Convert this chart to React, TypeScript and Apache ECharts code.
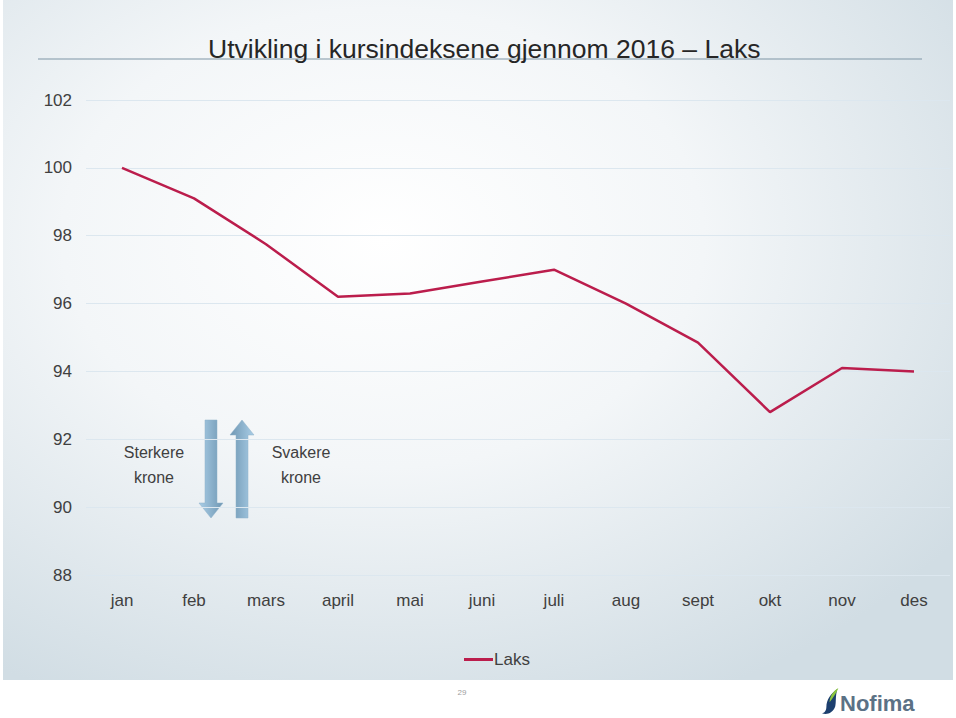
import React, { useEffect, useRef } from "react";
import * as echarts from "echarts";

const categories = ["jan", "feb", "mars", "april", "mai", "juni", "juli", "aug", "sept", "okt", "nov", "des"];
const laks = [100.0, 99.1, 97.75, 96.2, 96.3, 96.65, 97.0, 96.0, 94.85, 92.8, 94.1, 94.0];
const yTicks = { min: 88, max: 102, interval: 2 };
const titleText = "Utvikling i kursindeksene gjennom 2016 \u2013 Laks";
const seriesName = "Laks";
const pageNumber = "29";

const FONT = "Liberation Sans";

echarts.graphic.registerShape(
  "swoosh",
  echarts.graphic.extendPath(
    "M 14 0 C 8 4 4 10 4 16 C 4 20 2 22 0 22 C 4 24 10 22 12 16 C 13 12 12 6 14 0 Z",
    {}
  )
);
echarts.graphic.registerShape(
  "leaf",
  echarts.graphic.extendPath("M 14 0 C 9 3 6 8 6 13 C 9 9 12 5 14 0 Z", {})
);

export default function App() {
  const ref = useRef<HTMLDivElement>(null);
  useEffect(() => {
    document.body.style.margin = "0";
    const chart = echarts.init(ref.current!, null, { renderer: "svg" });
    chart.setOption({
      animation: false,
      backgroundColor: "#ffffff",
      title: {
        text: titleText,
        left: 203,
        top: 30,
        textStyle: { fontFamily: FONT, fontSize: 26.5, fontWeight: "normal", color: "#262626" },
      },
      graphic: [
        {
          type: "rect",
          z: -10,
          silent: true,
          shape: { x: 3, y: 0, width: 950, height: 680 },
          style: {
            fill: {
              type: "radial",
              x: 0.4,
              y: 0.35,
              r: 0.75,
              colorStops: [
                { offset: 0, color: "#ffffff" },
                { offset: 0.45, color: "#f3f6f8" },
                { offset: 1, color: "#d1dde4" },
              ],
            },
          },
        },
        {
          type: "line",
          shape: { x1: 38, y1: 59, x2: 922, y2: 59 },
          style: { stroke: "#7f96a6", lineWidth: 1.2 },
        },
        {
          type: "polygon",
          shape: {
            points: [
              [205, 420], [217, 420], [217, 503], [223, 503], [211, 518], [199, 503], [205, 503],
            ],
          },
          style: {
            fill: {
              type: "linear", x: 0, y: 0, x2: 1, y2: 0,
              colorStops: [
                { offset: 0, color: "#a9cde6" },
                { offset: 1, color: "#6f97b3" },
              ],
            },
            stroke: "#8fb1c8",
            lineWidth: 0.5,
          },
        },
        {
          type: "polygon",
          shape: {
            points: [
              [242, 420], [254, 435], [248, 435], [248, 518], [236, 518], [236, 435], [230, 435],
            ],
          },
          style: {
            fill: {
              type: "linear", x: 0, y: 0, x2: 1, y2: 0,
              colorStops: [
                { offset: 0, color: "#6f97b3" },
                { offset: 1, color: "#a9cde6" },
              ],
            },
            stroke: "#8fb1c8",
            lineWidth: 0.5,
          },
        },
        {
          type: "text",
          x: 154,
          y: 465,
          style: {
            text: "Sterkere\nkrone",
            fontFamily: FONT,
            fontSize: 16,
            lineHeight: 25,
            fill: "#404040",
            align: "center",
            verticalAlign: "middle",
          },
        },
        {
          type: "text",
          x: 301,
          y: 465,
          style: {
            text: "Svakere\nkrone",
            fontFamily: FONT,
            fontSize: 16,
            lineHeight: 25,
            fill: "#404040",
            align: "center",
            verticalAlign: "middle",
          },
        },
        {
          type: "text",
          x: 462,
          y: 692,
          style: {
            text: pageNumber,
            fontFamily: FONT,
            fontSize: 8,
            fill: "#a0a0a0",
            align: "center",
            verticalAlign: "middle",
          },
        },
        {
          type: "swoosh",
          x: 822,
          y: 689,
          scaleX: 1.1,
          scaleY: 1.1,
          style: { fill: "#1c3f6e" },
        },
        {
          type: "leaf",
          x: 823,
          y: 688,
          scaleX: 1.1,
          scaleY: 1.1,
          style: { fill: "#8cc63e" },
        },
        {
          type: "text",
          x: 840,
          y: 703,
          style: {
            text: "Nofima",
            fontFamily: FONT,
            fontSize: 22,
            fontWeight: "bold",
            fill: "#5b7185",
            verticalAlign: "middle",
          },
        },
      ],
      legend: {
        top: 646,
        left: 459,
        itemWidth: 29,
        itemHeight: 3,
        itemGap: 4,
        icon: "rect",
        data: [seriesName],
        textStyle: { fontFamily: FONT, fontSize: 17, color: "#404040", padding: [0, 0, 0, -4] },
      },
      grid: { left: 86, right: 6, top: 100, bottom: 143, containLabel: false },
      xAxis: {
        type: "category",
        data: categories,
        boundaryGap: true,
        axisLine: { show: false },
        axisTick: { show: false },
        axisLabel: { fontFamily: FONT, fontSize: 17, color: "#404040", margin: 17 },
      },
      yAxis: {
        type: "value",
        min: yTicks.min,
        max: yTicks.max,
        interval: yTicks.interval,
        axisLine: { show: false },
        axisTick: { show: false },
        axisLabel: { fontFamily: FONT, fontSize: 17, color: "#404040", margin: 14 },
        splitLine: { lineStyle: { color: "#dce7ef", width: 1 } },
      },
      series: [
        {
          name: seriesName,
          type: "line",
          data: laks,
          symbol: "none",
          lineStyle: { color: "#bb1d4c", width: 2.5 },
          itemStyle: { color: "#bb1d4c" },
        },
      ],
    });
    return () => chart.dispose();
  }, []);
  return <div ref={ref} style={{ width: 956, height: 718 }} />;
}
